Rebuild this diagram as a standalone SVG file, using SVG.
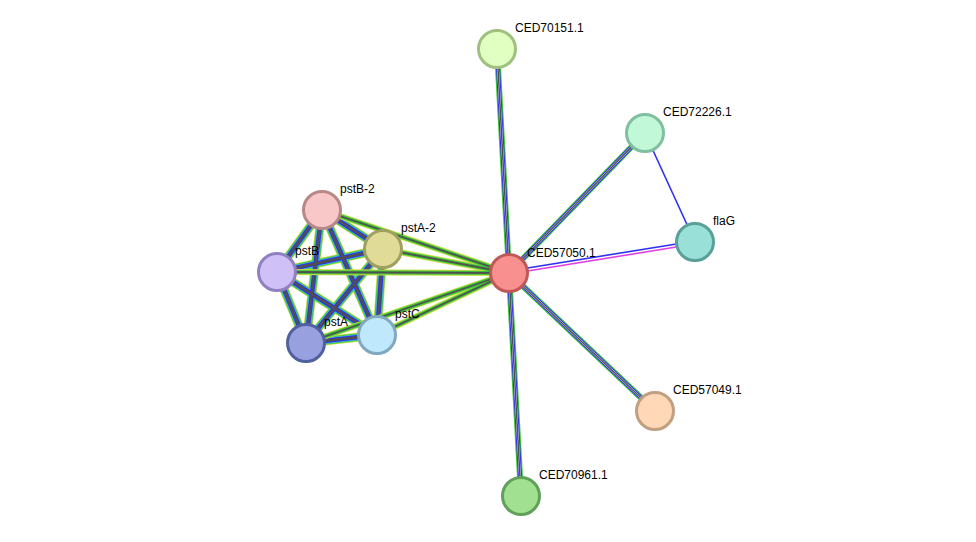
<svg xmlns="http://www.w3.org/2000/svg" xmlns:xlink="http://www.w3.org/1999/xlink" width="976" height="542" viewBox="0 0 976 542">
<style>
.n{stroke-width:3}
.t{font-family:"Liberation Sans",Arial,sans-serif;font-size:12px;fill:#000}
line,use{fill:none}
.y{stroke:#c8dc3c}.g{stroke:#3cc83c}.c{stroke:#40c0d8}.b{stroke:#3030f0}.k{stroke:#505050}.m{stroke:#e040e0}.lb{stroke:#a0a8f8}.w{stroke:#fff}
</style>
<defs>
<path id="a1" d="M322,210L383,249"/><path id="a2" d="M322,210L277,272"/><path id="a3" d="M322,210L306,343"/><path id="a4" d="M322,210L377,335"/>
<path id="a5" d="M383,249L277,272"/><path id="a6" d="M383,249L306,343"/><path id="a7" d="M383,249L377,335"/>
<path id="a8" d="M277,272L306,343"/><path id="a9" d="M277,272L377,335"/><path id="a10" d="M306,343L377,335"/>
<path id="h1" d="M322,210L509,273"/><path id="h2" d="M383,249L509,273"/><path id="h3" d="M277,272L509,273"/><path id="h4" d="M306,343L509,273"/><path id="h5" d="M377,335L509,273"/>
<path id="s1" d="M497,49L509,273"/><path id="s2" d="M645,133L509,273"/><path id="s3" d="M655,411L509,273"/><path id="s4" d="M521,496L509,273"/>
</defs>
<g id="connectors">
<g id="cluster-edges">
<g stroke-width="9" class="y"><use href="#a1"/><use href="#a2"/><use href="#a3"/><use href="#a4"/><use href="#a5"/><use href="#a6"/><use href="#a7"/><use href="#a8"/><use href="#a9"/><use href="#a10"/></g>
<g stroke-width="7.5" class="g"><use href="#a1"/><use href="#a2"/><use href="#a3"/><use href="#a4"/><use href="#a5"/><use href="#a6"/><use href="#a7"/><use href="#a8"/><use href="#a9"/><use href="#a10"/></g>
<g stroke-width="6" class="c"><use href="#a1"/><use href="#a2"/><use href="#a3"/><use href="#a4"/><use href="#a5"/><use href="#a6"/><use href="#a7"/><use href="#a8"/><use href="#a9"/><use href="#a10"/></g>
<g stroke-width="4.5" class="b"><use href="#a1"/><use href="#a2"/><use href="#a3"/><use href="#a4"/><use href="#a5"/><use href="#a6"/><use href="#a7"/><use href="#a8"/><use href="#a9"/><use href="#a10"/></g>
<g stroke-width="2.5" class="k"><use href="#a1"/><use href="#a2"/><use href="#a3"/><use href="#a4"/><use href="#a5"/><use href="#a6"/><use href="#a7"/><use href="#a8"/><use href="#a9"/><use href="#a10"/></g>
</g>
<g id="hub-cluster-edges">
<g stroke-width="6" class="y"><use href="#h1"/><use href="#h2"/><use href="#h3"/><use href="#h4"/><use href="#h5"/></g>
<g stroke-width="4" class="g"><use href="#h1"/><use href="#h2"/><use href="#h3"/><use href="#h4"/><use href="#h5"/></g>
<g stroke-width="1.8" class="k"><use href="#h1"/><use href="#h2"/><use href="#h3"/><use href="#h4"/><use href="#h5"/></g>
</g>
<g id="hub-edges">
<g stroke-width="6" class="g"><use href="#s1"/><use href="#s2"/><use href="#s3"/><use href="#s4"/></g>
<g stroke-width="4" class="b"><use href="#s1"/><use href="#s2"/><use href="#s3"/><use href="#s4"/></g>
<g stroke-width="2" class="w"><use href="#s1"/><use href="#s2"/><use href="#s3"/><use href="#s4"/></g>
<g stroke-width="1.5" class="k"><use href="#s1"/><use href="#s2"/><use href="#s3"/><use href="#s4"/></g>
</g>
<line x1="509" y1="274" x2="695" y2="244" stroke="#e040e0" stroke-width="1.6"/>
<line x1="509" y1="271" x2="695" y2="241" stroke="#3030f0" stroke-width="1.6"/>
<line x1="645" y1="133" x2="695" y2="242" stroke="#3030f0" stroke-width="1.6"/>
</g>
<g id="CED70151.1"><circle class="n" cx="497" cy="49" r="18.5" fill="#e0ffc0" stroke="#a0c080"/><text class="t" x="515" y="32">CED70151.1</text></g>
<g id="CED72226.1"><circle class="n" cx="645" cy="133" r="18.5" fill="#c0f8d8" stroke="#80c0a0"/><text class="t" x="663" y="116">CED72226.1</text></g>
<g id="flaG"><circle class="n" cx="695" cy="242" r="18.5" fill="#98e0d8" stroke="#58a098"/><text class="t" x="713" y="225">flaG</text></g>
<g id="CED57050.1"><circle class="n" cx="509" cy="273" r="18.5" fill="#f89090" stroke="#c05858"/><text class="t" x="527" y="257">CED57050.1</text></g>
<g id="CED57049.1"><circle class="n" cx="655" cy="411" r="18.5" fill="#ffd8b8" stroke="#c0a080"/><text class="t" x="673" y="394">CED57049.1</text></g>
<g id="CED70961.1"><circle class="n" cx="521" cy="496" r="18.5" fill="#a0e090" stroke="#60a058"/><text class="t" x="539" y="479">CED70961.1</text></g>
<g id="pstB-2"><circle class="n" cx="322" cy="210" r="18.5" fill="#f8c8c8" stroke="#b88888"/><text class="t" x="340" y="193">pstB-2</text></g>
<g id="pstA-2"><circle class="n" cx="383" cy="249" r="18.5" fill="#e0dc98" stroke="#a0a060"/><text class="t" x="401" y="232">pstA-2</text></g>
<g id="pstB"><circle class="n" cx="277" cy="272" r="18.5" fill="#d0c0f8" stroke="#9080c0"/><text class="t" x="295" y="255">pstB</text></g>
<g id="pstA"><circle class="n" cx="306" cy="343" r="18.5" fill="#98a0e0" stroke="#5060a0"/><text class="t" x="324" y="326">pstA</text></g>
<g id="pstC"><circle class="n" cx="377" cy="335" r="18.5" fill="#c0e8fc" stroke="#80a8c0"/><text class="t" x="395" y="318">pstC</text></g>
</svg>
